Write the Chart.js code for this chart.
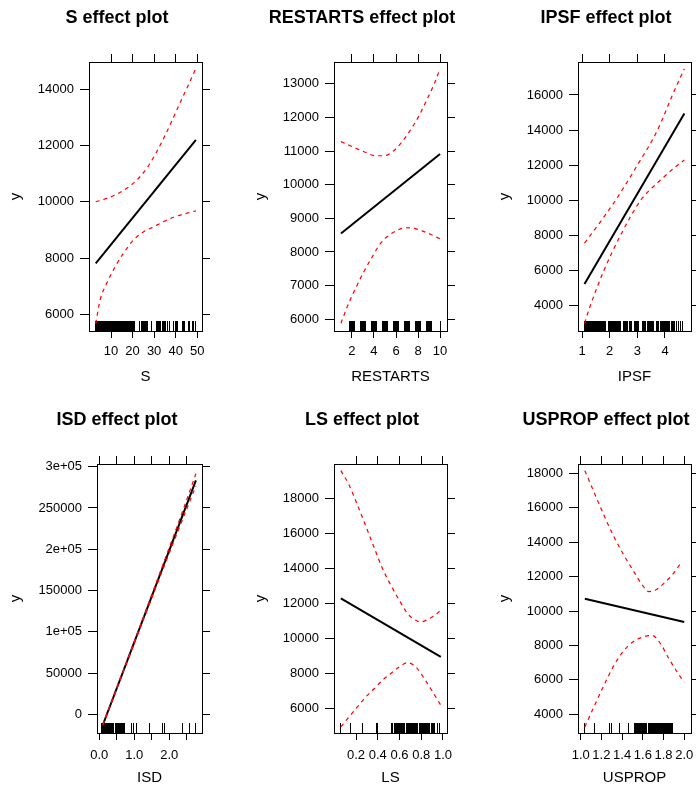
<!DOCTYPE html>
<html><head><meta charset="utf-8">
<script src="https://cdn.jsdelivr.net/npm/chart.js@4"></script>
<style>
html,body{margin:0;padding:0;background:#fff;overflow:hidden;width:696px;height:790px;}
#wrap{position:relative;width:696px;height:790px;overflow:hidden;background:#fff;}
canvas{position:absolute;}
</style></head><body><div id="wrap"></div>
<script>
// ---------- S ----------
const sFitX = [2.9, 49.4];
const sFitY = [7810, 12200];
const sUpX = [2.9, 8, 12.6, 17.3, 21.9, 26.6, 31.2, 35.9, 40.5, 45.2, 49.4];
const sUpY = [10000, 10120, 10270, 10480, 10770, 11190, 11780, 12490, 13260, 14040, 14750];
const sLoX = [2.9, 4.9, 8, 11.9, 15.7, 20.4, 25, 29.7, 34.3, 39, 43.6, 49.4];
const sLoY = [5670, 6500, 7100, 7690, 8160, 8640, 8930, 9110, 9290, 9450, 9560, 9680];
const sRug = [3,3.3,3.6,4,4.3,4.6,5,5.3,5.6,6,6.3,6.6,7,7.3,7.6,8,8.3,8.6,9,9.3,9.6,10,10.3,10.6,11,11.3,11.6,12,12.3,12.6,13,13.3,13.6,14,14.3,14.6,15,15.3,15.6,16,16.3,16.6,17,17.3,17.6,18,18.3,18.6,19,19.3,19.6,20,20.4,21,23,23.4,24,24.5,25,25.5,26,26.5,27,29,31,31.5,32,32.5,33,34,34.5,35,35.5,36,37,39,40,40.5,41,43,43.5,44,46,46.5,48,48.5,49];
const sXTicks = [10,20,30,40,50];
const sXLabels = ['10','20','30','40','50'];
const sYTicks = [6000,8000,10000,12000,14000];
const sYLabels = ['6000','8000','10000','12000','14000'];

// ---------- RESTARTS ----------
const rFitX = [1, 10];
const rFitY = [8550, 10910];
const rUpX = [1, 2.03, 3.09, 4.16, 4.92, 5.68, 6.44, 7.2, 7.96, 8.72, 9.49, 10];
const rUpY = [11280, 11130, 10980, 10860, 10860, 10980, 11230, 11570, 11970, 12470, 13010, 13450];
const rLoX = [1, 1.57, 2.33, 3.09, 3.85, 4.61, 5.38, 6.14, 6.9, 7.66, 8.42, 9.18, 10];
const rLoY = [5880, 6370, 6920, 7420, 7860, 8260, 8500, 8650, 8720, 8700, 8620, 8520, 8390];
const rRugDense = [2,3,4,5,6,7,8,9];
const rRugSparse = [10];
const rXTicks = [2,4,6,8,10];
const rXLabels = ['2','4','6','8','10'];
const rYTicks = [6000,7000,8000,9000,10000,11000,12000,13000];
const rYLabels = ['6000','7000','8000','9000','10000','11000','12000','13000'];

// ---------- IPSF ----------
const iFitX = [1.09, 4.7];
const iFitY = [5240, 14950];
const iUpX = [1.09, 1.3, 2.21, 3.0, 3.73, 4.27, 4.7];
const iUpY = [7570, 8000, 10000, 12000, 14000, 16000, 17500];
const iLoX = [1.09, 1.3, 1.79, 2.39, 3.12, 3.8, 4.45, 4.7];
const iLoY = [3000, 4000, 6000, 8000, 10000, 11100, 12000, 12300];
const iRug = [1.10,1.13,1.15,1.18,1.20,1.23,1.26,1.28,1.31,1.34,1.36,1.39,1.42,1.44,1.47,1.50,1.52,1.55,1.58,1.60,1.63,1.66,1.68,1.71,1.74,1.77,1.80,1.83,1.86,1.95,1.98,2.01,2.04,2.07,2.10,2.13,2.16,2.20,2.24,2.28,2.32,2.36,2.40,2.49,2.52,2.55,2.58,2.62,2.66,2.70,2.74,2.78,2.90,2.94,2.98,3.02,3.06,3.17,3.21,3.25,3.29,3.36,3.40,3.44,3.48,3.52,3.56,3.60,3.68,3.72,3.76,3.82,3.86,3.90,3.94,3.98,4.02,4.06,4.10,4.14,4.18,4.22,4.26,4.30,4.36,4.42,4.50,4.56,4.63];
const iXTicks = [1,2,3,4];
const iXLabels = ['1','2','3','4'];
const iYTicks = [4000,6000,8000,10000,12000,14000,16000];
const iYLabels = ['4000','6000','8000','10000','12000','14000','16000'];

// ---------- ISD ----------
const dFitX = [0.1, 2.76];
const dFitY = [-13000, 283500];
const dUpX = [0.1, 0.7, 1.3, 1.9, 2.4, 2.76];
const dUpY = [-12700, 54600, 122300, 190600, 248400, 291500];
const dLoX = [0.1, 0.7, 1.3, 1.9, 2.4, 2.76];
const dLoY = [-13300, 53200, 119300, 184600, 238400, 276500];
const dRug = [0.07,0.09,0.11,0.13,0.15,0.17,0.19,0.21,0.23,0.25,0.29,0.31,0.33,0.35,0.37,0.39,0.41,0.45,0.47,0.49,0.51,0.53,0.55,0.59,0.61,0.63,0.67,0.69,0.71,0.73,0.91,0.97,1.05,1.43,1.81,1.85,2.38,2.59,2.74];
const dXTicks = [0,0.5,1,1.5,2,2.5];
const dXLabels = ['0.0','','1.0','','2.0',''];
const dYTicks = [0,50000,100000,150000,200000,250000,300000];
const dYLabels = ['0','50000','1e+05','150000','2e+05','250000','3e+05'];

// ---------- LS ----------
const lFitX = [0.06, 0.98];
const lFitY = [12290, 8950];
const lUpX = [0.06, 0.135, 0.212, 0.289, 0.366, 0.443, 0.52, 0.597, 0.674, 0.75, 0.797, 0.874, 0.95, 0.98];
const lUpY = [19590, 18780, 17640, 16440, 15200, 14000, 13050, 12190, 11430, 11040, 10950, 11140, 11450, 11650];
const lLoX = [0.06, 0.135, 0.212, 0.289, 0.366, 0.443, 0.52, 0.597, 0.674, 0.75, 0.828, 0.905, 0.98];
const lLoY = [4950, 5520, 6090, 6660, 7130, 7620, 8000, 8380, 8620, 8380, 7710, 6950, 6190];
const lRug = [0.06,0.15,0.26,0.39,0.40,0.53,0.54,0.55,0.56,0.57,0.58,0.59,0.60,0.61,0.62,0.63,0.64,0.65,0.66,0.67,0.68,0.69,0.70,0.71,0.72,0.73,0.74,0.75,0.76,0.77,0.78,0.79,0.80,0.81,0.82,0.83,0.84,0.85,0.86,0.87,0.88,0.89,0.90,0.91,0.92,0.95,0.97];
const lXTicks = [0.2,0.4,0.6,0.8,1.0];
const lXLabels = ['0.2','0.4','0.6','0.8','1.0'];
const lYTicks = [6000,8000,10000,12000,14000,16000,18000];
const lYLabels = ['6000','8000','10000','12000','14000','16000','18000'];

// ---------- USPROP ----------
const uFitX = [1.04, 2.0];
const uFitY = [10720, 9360];
const uUpX = [1.04, 1.126, 1.223, 1.32, 1.416, 1.513, 1.594, 1.658, 1.723, 1.803, 1.884, 1.965];
const uUpY = [18160, 16950, 15590, 14330, 13260, 12290, 11520, 11130, 11220, 11610, 12100, 12780];
const uLoX = [1.04, 1.126, 1.223, 1.32, 1.416, 1.513, 1.607, 1.69, 1.771, 1.852, 1.933, 1.998];
const uLoY = [3260, 4410, 5670, 6830, 7700, 8250, 8500, 8580, 8100, 7230, 6440, 5860];
const uRug = [1.04,1.13,1.28,1.30,1.37,1.46,1.52,1.53,1.54,1.55,1.56,1.57,1.58,1.59,1.60,1.61,1.62,1.63,1.64,1.65,1.66,1.67,1.68,1.69,1.70,1.71,1.72,1.73,1.74,1.75,1.76,1.77,1.78,1.79,1.80,1.81,1.82,1.83,1.84,1.85,1.86,1.87,1.88,1.89];
const uXTicks = [1.0,1.2,1.4,1.6,1.8,2.0];
const uXLabels = ['1.0','1.2','1.4','1.6','1.8','2.0'];
const uYTicks = [4000,6000,8000,10000,12000,14000,16000,18000];
const uYLabels = ['4000','6000','8000','10000','12000','14000','16000','18000'];

// ---------- layout ----------
const colLeft = [0, 245, 489];
const rowTop = [0, 402];
const CW = 234, CH = 390;
const BOX_TOP = 62, BOX_BOTTOM = 331, BOX_RIGHT = 202;
const TITLE_PAD_TOP = 7.5, TITLE_LH = 18 * 1.2;

const panels = [
  {col:0,row:0,title:'S effect plot',xTitle:'S',xMin:-0.22,xMax:52.22,yMin:5406,yMax:14971,xT:sXTicks,xL:sXLabels,yT:sYTicks,yL:sYLabels,boxLeft:89,fit:[sFitX,sFitY],up:[sUpX,sUpY],lo:[sLoX,sLoY],rug:[{v:sRug,w:1}]},
  {col:1,row:0,title:'RESTARTS effect plot',xTitle:'RESTARTS',xMin:0.37,xMax:10.63,yMin:5652,yMax:13645,xT:rXTicks,xL:rXLabels,yT:rYTicks,yL:rYLabels,boxLeft:89,fit:[rFitX,rFitY],up:[rUpX,rUpY],lo:[rLoX,rLoY],rug:[{v:rRugDense,w:6},{v:rRugSparse,w:1}]},
  {col:2,row:0,title:'IPSF effect plot',xTitle:'IPSF',xMin:0.855,xMax:4.94,yMin:2559,yMax:17879,xT:iXTicks,xL:iXLabels,yT:iYTicks,yL:iYLabels,boxLeft:89,fit:[iFitX,iFitY],up:[iUpX,iUpY],lo:[iLoX,iLoY],rug:[{v:iRug,w:1}]},
  {col:0,row:1,title:'ISD effect plot',xTitle:'ISD',xMin:-0.066,xMax:2.934,yMin:-22700,yMax:303280,xT:dXTicks,xL:dXLabels,yT:dYTicks,yL:dYLabels,boxLeft:97,fit:[dFitX,dFitY],up:[dUpX,dUpY],lo:[dLoX,dLoY],rug:[{v:dRug,w:1}]},
  {col:1,row:1,title:'LS effect plot',xTitle:'LS',xMin:-0.003,xMax:1.037,yMin:4603,yMax:19970,xT:lXTicks,xL:lXLabels,yT:lYTicks,yL:lYLabels,boxLeft:89,fit:[lFitX,lFitY],up:[lUpX,lUpY],lo:[lLoX,lLoY],rug:[{v:lRug,w:1}]},
  {col:2,row:1,title:'USPROP effect plot',xTitle:'USPROP',xMin:0.974,xMax:2.065,yMin:2911,yMax:18548,xT:uXTicks,xL:uXLabels,yT:uYTicks,yL:uYLabels,boxLeft:89,fit:[uFitX,uFitY],up:[uUpX,uUpY],lo:[uLoX,uLoY],rug:[{v:uRug,w:1}]}
];

Chart.defaults.font.family = '"Liberation Sans", Arial, Helvetica, sans-serif';
Chart.defaults.color = '#000';

function pts(xs, ys) { return xs.map((x, i) => ({x: x, y: ys[i]})); }
function labeler(ticks, labels) {
  return (v) => { const i = ticks.findIndex(t => Math.abs(t - v) < 1e-9); return i < 0 ? '' : labels[i]; };
}
function setTicks(vals) { return (scale) => { scale.ticks = vals.map(v => ({value: v})); }; }

const wrap = document.getElementById('wrap');

panels.forEach((p, idx) => {
  const c = document.createElement('canvas');
  c.width = CW; c.height = CH;
  c.style.width = CW + 'px'; c.style.height = CH + 'px';
  c.style.left = colLeft[p.col] + 'px';
  c.style.top = rowTop[p.row] + 'px';
  wrap.appendChild(c);

  const xPad = p.row === 0 ? 5.5 : 7.5;
  const xTitlePad = p.row === 0 ? 4.5 : 5.5;
  const gridBase = {display: true, drawOnChartArea: false, drawTicks: true, color: '#000', lineWidth: 1};
  const borderBase = {display: true, color: '#000', width: 1};

  new Chart(c, {
    type: 'line',
    data: {
      datasets: [
        {data: pts(p.up[0], p.up[1]), borderColor: '#ff0000', borderWidth: 1.2, borderDash: [4, 4], pointRadius: 0, fill: false, cubicInterpolationMode: 'monotone'},
        {data: pts(p.lo[0], p.lo[1]), borderColor: '#ff0000', borderWidth: 1.2, borderDash: [4, 4], pointRadius: 0, fill: false, cubicInterpolationMode: 'monotone'},
        {data: pts(p.fit[0], p.fit[1]), borderColor: '#000000', borderWidth: 2, pointRadius: 0, fill: false, tension: 0}
      ]
    },
    options: {
      responsive: false,
      animation: false,
      events: [],
      devicePixelRatio: 1,
      layout: {padding: 0},
      plugins: {
        legend: {display: false},
        tooltip: {enabled: false},
        title: {display: true, text: p.title, color: '#000', font: {size: 18, weight: 'bold', lineHeight: 1.2}, padding: {top: TITLE_PAD_TOP, bottom: 0}}
      },
      scales: {
        x: {
          type: 'linear', position: 'bottom', min: p.xMin, max: p.xMax,
          afterBuildTicks: setTicks(p.xT),
          afterFit: (s) => { s.height = CH - BOX_BOTTOM; },
          ticks: {autoSkip: false, maxRotation: 0, minRotation: 0, padding: xPad, color: '#000', font: {size: 13}, callback: labeler(p.xT, p.xL)},
          grid: Object.assign({}, gridBase, {tickLength: 7}),
          border: borderBase,
          title: {display: true, text: p.xTitle, color: '#000', font: {size: 15}, padding: {top: 0, bottom: xTitlePad}}
        },
        x2: {
          type: 'linear', position: 'top', min: p.xMin, max: p.xMax,
          afterBuildTicks: setTicks(p.xT),
          afterFit: (s) => { s.height = BOX_TOP - (TITLE_PAD_TOP + TITLE_LH); },
          ticks: {display: false, autoSkip: false},
          grid: Object.assign({}, gridBase, {tickLength: 8}),
          border: borderBase
        },
        y: {
          type: 'linear', position: 'left', min: p.yMin, max: p.yMax,
          afterBuildTicks: setTicks(p.yT),
          afterFit: (s) => { s.width = p.boxLeft; },
          ticks: {autoSkip: false, padding: 6, color: '#000', font: {size: 13}, callback: labeler(p.yT, p.yL)},
          grid: Object.assign({}, gridBase, {tickLength: 9}),
          border: borderBase,
          title: {display: true, text: 'y', color: '#000', font: {size: 15}, padding: {top: 7.3, bottom: 0}}
        },
        y2: {
          type: 'linear', position: 'right', min: p.yMin, max: p.yMax,
          afterBuildTicks: setTicks(p.yT),
          afterFit: (s) => { s.width = CW - BOX_RIGHT; },
          ticks: {display: false, autoSkip: false},
          grid: Object.assign({}, gridBase, {tickLength: 8}),
          border: borderBase
        }
      }
    },
    plugins: [{
      id: 'rug' + idx,
      beforeDatasetsDraw(chart) {
        const ctx = chart.ctx, xs = chart.scales.x, b = chart.chartArea.bottom;
        ctx.save();
        ctx.fillStyle = '#000';
        p.rug.forEach(g => g.v.forEach(v => {
          const px = xs.getPixelForValue(v);
          ctx.fillRect(Math.round(px - g.w / 2), b - 10, g.w, 10);
        }));
        ctx.restore();
      }
    }]
  });
});
</script>
</body></html>
